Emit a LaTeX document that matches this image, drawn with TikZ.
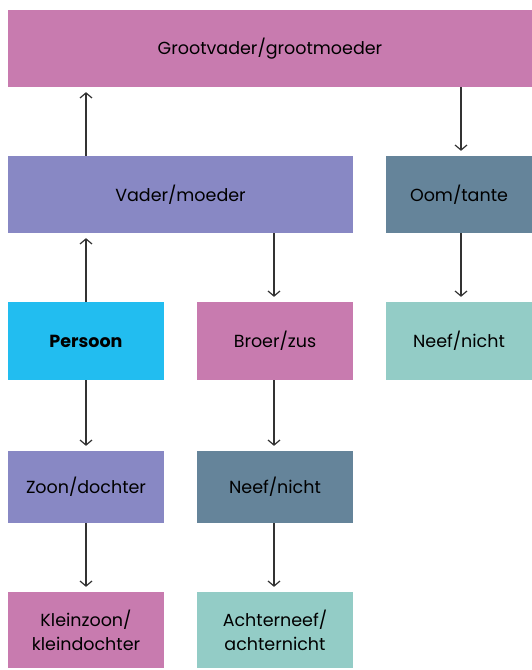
\documentclass[tikz,border=0pt]{standalone}
\usepackage{fontspec}
\setmainfont{Poppins}
\usepackage{tikz}
\usetikzlibrary{arrows.meta,positioning}

\definecolor{roze}{HTML}{C87BAF}
\definecolor{paars}{HTML}{8888C4}
\definecolor{leisteen}{HTML}{65849A}
\definecolor{cyaan}{HTML}{22BDF0}
\definecolor{mint}{HTML}{93CCC6}
\definecolor{pijl}{HTML}{333333}

\begin{document}
\begin{tikzpicture}[>={Straight Barb[length=5bp,width=12bp]}, font=\fontsize{17.5bp}{24bp}\selectfont,
  box/.style={fill=#1, inner sep=0pt, align=center},
  pl/.style={->, draw=pijl, line width=1.2bp, shorten >=5bp}]
%%
  \useasboundingbox (0bp,0bp) rectangle (532bp,670bp);
  \node (groot) at (270.0bp,621.5bp) [box=roze, minimum width=524bp, minimum height=77bp] {Grootvader/grootmoeder};
  \node (vader) at (180.5bp,475.5bp) [box=paars, minimum width=345bp, minimum height=77bp] {Vader/moeder};
  \node (oom) at (459.0bp,475.5bp) [box=leisteen, minimum width=146bp, minimum height=77bp] {Oom/tante};
  \node (pers) at (86.0bp,329.0bp) [box=cyaan, minimum width=156bp, minimum height=78bp] {\bfseries Persoon};
  \node (broer) at (275.0bp,329.0bp) [box=roze, minimum width=156bp, minimum height=78bp] {Broer/zus};
  \node (neef1) at (459.0bp,329.0bp) [box=mint, minimum width=146bp, minimum height=78bp] {Neef/nicht};
  \node (zoon) at (86.0bp,183.0bp) [box=paars, minimum width=156bp, minimum height=72bp] {Zoon/dochter};
  \node (neef2) at (275.0bp,183.0bp) [box=leisteen, minimum width=156bp, minimum height=72bp] {Neef/nicht};
  \node (klein) at (86.0bp,40.0bp) [box=roze, minimum width=156bp, minimum height=76bp] {Kleinzoon/\\kleindochter};
  \node (achter) at (275.0bp,40.0bp) [box=mint, minimum width=156bp, minimum height=76bp] {Achterneef/\\achternicht};
  \draw [pl] (pers.north) -- (pers.north |- vader.south);
  \draw [pl] (pers.north |- vader.north) -- (pers.north |- groot.south);
  \draw [pl] ([xshift=2bp]oom.north |- groot.south) -- ([xshift=2bp]oom.north);
  \draw [pl] ([xshift=-1bp]broer.north |- vader.south) -- ([xshift=-1bp]broer.north);
  \draw [pl] ([xshift=2bp]oom.south) -- ([xshift=2bp]neef1.north);
  \draw [pl] (pers) -- (zoon);
  \draw [pl] ([xshift=-1bp]broer.south) -- ([xshift=-1bp]neef2.north);
  \draw [pl] (zoon) -- (klein);
  \draw [pl] ([xshift=-1bp]neef2.south) -- ([xshift=-1bp]achter.north);
%
\end{tikzpicture}
\end{document}
